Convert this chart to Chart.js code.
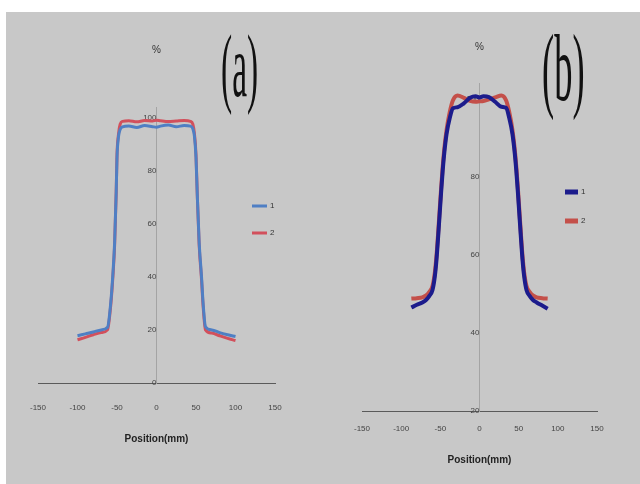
<!DOCTYPE html>
<html>
<head>
<meta charset="utf-8">
<script src="https://cdn.jsdelivr.net/npm/chart.js@4/dist/chart.umd.min.js"></script>
<style>
  html, body { margin: 0; padding: 0; background: #fff; width: 640px; height: 484px; overflow: hidden; }
  #sheet { position: absolute; left: 6px; top: 12px; width: 634px; height: 472px; background: #c8c8c8; }
  .panel { position: absolute; top: 0; width: 320px; height: 484px; }
  .tag { position: absolute; font-family: "Liberation Serif", serif; line-height: 1; color: #111;
         transform-origin: left top; white-space: nowrap; }
</style>
</head>
<body>
<div id="sheet"></div>
<div class="panel" style="left:0"><canvas id="chartA" width="320" height="484"></canvas></div>
<div class="panel" style="left:320px"><canvas id="chartB" width="320" height="484"></canvas></div>
<div class="tag" style="left:221px;top:23px;font-size:88px;transform:scaleX(0.38)">(a)</div>
<div class="tag" style="left:542px;top:20px;font-size:96px;transform:scaleX(0.38)">(b)</div>
<script>
  "use strict";

  // --- data ---
  const seriesNames = ["1", "2"];
  const xTickValues = [-150, -100, -50, 0, 50, 100, 150];
  const yTicksA = [0, 20, 40, 60, 80, 100];
  const yTicksB = [20, 40, 60, 80, 100];
  const xTitle = "Position(mm)";
  const yUnit = "%";

  // panel (a)
  const posA = [-100, -90, -80, -70, -62, -58, -55, -53, -51, -50, -48, -46, -43, -35, -25, -15, -5, 0,
                5, 15, 25, 35, 43, 46, 48, 50, 51.5, 54, 57, 59, 62, 70, 80, 90, 100];
  const a1 = [17.8, 18.5, 19.2, 20.0, 21.0, 30, 42, 53, 72, 85, 93, 95.5, 96.5, 96.8, 96.3, 97.0, 96.6, 96.4,
              96.8, 97.2, 96.6, 97.0, 96.8, 95.8, 93, 85, 72, 53, 40, 30, 21.2, 20.0, 19.0, 18.2, 17.5];
  const a2 = [16.3, 17.2, 18.2, 19.0, 20.0, 29, 41, 52, 72, 86, 94, 97.5, 98.6, 98.8, 98.4, 98.9, 98.7, 99.0,
              98.8, 98.5, 98.7, 98.9, 98.6, 97.5, 94, 86, 72, 52, 39, 29, 20.0, 18.8, 17.8, 16.8, 16.0];

  // panel (b)
  const posB = [-87, -80, -73, -68, -64, -60, -57, -55, -53, -51, -49, -47, -45, -42, -38, -34, -28, -20, -12, -5, 0,
                5, 12, 20, 28, 34, 38, 42, 45, 47, 49, 51, 53, 55, 57, 60, 64, 68, 73, 80, 87];
  const b1 = [46.5, 47.2, 47.8, 48.5, 49.5, 51, 54.5, 58.5, 64, 70, 76, 81.5, 86, 91, 95, 97.5, 97.8, 98.8, 100.2, 100.6, 100.3,
              100.6, 100.4, 99.2, 97.9, 97.6, 95, 91, 86, 81.5, 76, 70, 64, 58.5, 54.5, 51, 49.5, 48.5, 47.8, 47.0, 46.2];
  const b2 = [48.8, 48.9, 49.1, 49.6, 50.5, 52, 55.5, 59.5, 65, 71, 77, 82.5, 87, 92, 96.5, 99.5, 100.8, 100.2, 99.4, 99.2, 99.3,
              99.4, 99.8, 100.3, 100.8, 99.5, 96.5, 92, 87, 82.5, 77, 71, 65, 59.5, 55.5, 52, 50.5, 49.6, 49.1, 48.9, 48.8];

  const tickFont = { family: "'Liberation Sans Narrow', 'Liberation Sans', sans-serif", size: 8 };

  // draws the "%" over the y axis and the small legend beside the curves
  const notes = {
    id: "notes",
    afterDraw(chart, args, opts) {
      const { ctx, chartArea, scales } = chart;
      ctx.save();
      ctx.fillStyle = "#333";
      ctx.font = "10px 'Liberation Sans', sans-serif";
      ctx.textAlign = "center";
      ctx.textBaseline = "middle";
      ctx.fillText(yUnit, scales.x.getPixelForValue(0), chartArea.top - opts.unitGap);

      ctx.textAlign = "left";
      ctx.font = "8px 'Liberation Sans', sans-serif";
      chart.data.datasets.forEach((ds, i) => {
        const y = opts.legendY + i * opts.legendStep;
        ctx.strokeStyle = ds.borderColor;
        ctx.lineWidth = opts.legendWidth;
        ctx.beginPath();
        ctx.moveTo(opts.legendX, y);
        ctx.lineTo(opts.legendX + opts.legendLen, y);
        ctx.stroke();
        ctx.fillText(ds.label, opts.legendX + opts.legendLen + 3, y);
      });
      ctx.restore();
    }
  };

  function makeChart(id, pos, s1, s2, yTicks, cfg) {
    const pts = (vals) => pos.map((x, i) => ({ x, y: vals[i] }));
    return new Chart(document.getElementById(id), {
      type: "line",
      data: {
        datasets: [
          { label: seriesNames[0], data: pts(s1), borderColor: cfg.c1, borderWidth: cfg.lw,
            pointRadius: 0, cubicInterpolationMode: "monotone" },
          { label: seriesNames[1], data: pts(s2), borderColor: cfg.c2, borderWidth: cfg.lw,
            pointRadius: 0, cubicInterpolationMode: "monotone" }
        ]
      },
      options: {
        responsive: false,
        animation: false,
        layout: { padding: cfg.pad },
        plugins: {
          legend: { display: false },
          tooltip: { enabled: false },
          notes: cfg.notes
        },
        scales: {
          x: {
            type: "linear",
            min: -150, max: 150,
            grid: { display: false, drawTicks: false },
            border: { display: true, color: "#5a5a5a", width: 1 },
            afterBuildTicks: (s) => { s.ticks = xTickValues.map(v => ({ value: v })); },
            afterFit: (s) => { s.height = cfg.xHeight; },
            ticks: { font: tickFont, color: "#444", padding: cfg.xPad, maxRotation: 0 },
            title: {
              display: true, text: xTitle, color: "#222", padding: 0,
              font: { family: "'Liberation Sans Narrow', 'Liberation Sans', sans-serif", size: 10, weight: "bold" }
            }
          },
          y: {
            type: "linear",
            position: { x: 0 },
            min: cfg.ymin, max: 104,
            grid: { display: false, drawTicks: false },
            border: { display: true, color: "#a4a4a4", width: 1 },
            afterBuildTicks: (s) => { s.ticks = yTicks.map(v => ({ value: v })); },
            ticks: { font: tickFont, color: "#444", padding: 6 }
          }
        }
      },
      plugins: [notes]
    });
  }

  makeChart("chartA", posA, a1, a2, yTicksA, {
    c1: "#4f7fc4", c2: "#d2505c", lw: 3, ymin: 0,
    pad: { left: 38, right: 45, top: 107, bottom: 39 }, xHeight: 62, xPad: 20,
    notes: { unitGap: 57, legendX: 252, legendY: 206, legendStep: 27, legendLen: 15, legendWidth: 3 }
  });

  makeChart("chartB", posB, b1, b2, yTicksB, {
    c1: "#1c1c8c", c2: "#c4504a", lw: 4, ymin: 20,
    pad: { left: 42, right: 43, top: 83, bottom: 18 }, xHeight: 55, xPad: 13,
    notes: { unitGap: 36, legendX: 245, legendY: 192, legendStep: 29, legendLen: 13, legendWidth: 5 }
  });
</script>
</body>
</html>
